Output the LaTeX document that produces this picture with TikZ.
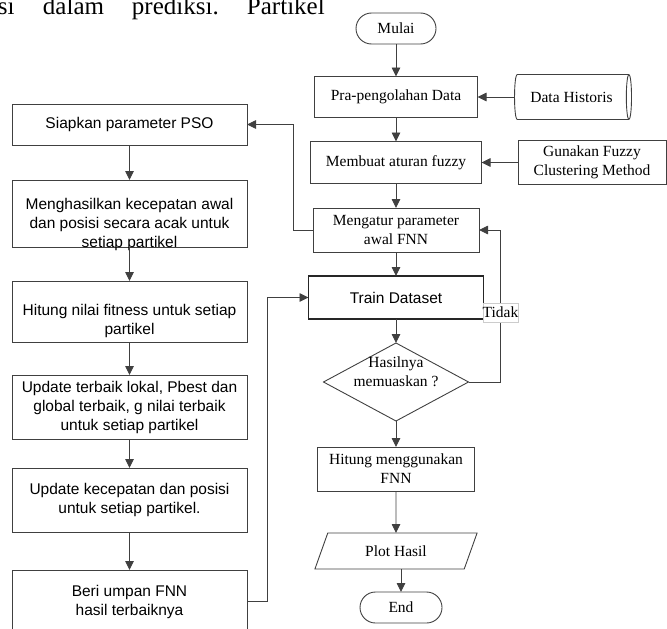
\documentclass[tikz,border=0pt]{standalone}
\usepackage{fontspec}
\setmainfont{Liberation Serif}
\setsansfont{Liberation Sans}
\usetikzlibrary{shapes.geometric,arrows.meta}
\begin{document}
\begin{tikzpicture}[x=1pt,y=-1pt,
  every node/.style={inner sep=0pt,outer sep=0pt,align=center},
  ln/.style={draw=black!75,line width=0.9pt},
  arr/.style={ln,-{Triangle[length=9pt,width=8.5pt]}},
  sbox/.style={ln,rectangle,minimum width=235pt,font=\sffamily\fontsize{15.5}{19}\selectfont},
  rbox/.style={ln,rectangle,font=\fontsize{15.5}{19}\selectfont},
  stxt/.style={font=\sffamily\fontsize{15.5}{19}\selectfont},
  rtxt/.style={font=\fontsize{15.5}{19}\selectfont},
  term/.style={ln,rectangle,rounded corners=15.5pt,font=\fontsize{15.5}{19}\selectfont}
]
\useasboundingbox (0,0) rectangle (667,629);
% top fragment of page text
\node[anchor=base west,font=\fontsize{25}{30}\selectfont] (toptext) at (-2,15)
  {\makebox[45pt][l]{si}\makebox[89pt][l]{dalam}\makebox[115pt][l]{prediksi.}Partikel};

% left column
\node[sbox,minimum height=41pt] (siap) at (129.5,124.5) {Siapkan parameter PSO};
\node[sbox,minimum height=67pt] (meng) at (129.5,213.5) {};
\node[stxt] (mengt) at (129.5,224.5) {Menghasilkan kecepatan awal\\dan posisi secara acak untuk\\setiap partikel};
\node[sbox,minimum height=61pt] (hfit) at (129.5,311.5) {};
\node[stxt] (hfitt) at (129.5,321) {Hitung nilai fitness untuk setiap\\partikel};
\node[sbox,minimum height=64pt] (upa) at (129.5,407) {Update terbaik lokal, Pbest dan\\global terbaik, g nilai terbaik\\untuk setiap partikel};
\node[sbox,minimum height=64pt] (upb) at (129.5,500) {Update kecepatan dan posisi\\untuk setiap partikel.};
\node[sbox,minimum height=63pt] (beri) at (129.5,601.5) {Beri umpan FNN\\hasil terbaiknya};

% right column
\node[term,minimum width=80pt,minimum height=31pt] (mulai) at (396,28.5) {Mulai};
\node[rbox,minimum width=163pt,minimum height=41pt] (pra) at (396,97) {Pra-pengolahan Data};
\node[ln,cylinder,shape aspect=0.5,minimum height=117pt,minimum width=45pt,rtxt] (hist) at (571.5,97) {Data Historis};
\node[rbox,minimum width=171pt,minimum height=42pt] (memb) at (396,162.5) {Membuat aturan fuzzy};
\node[rbox,minimum width=148pt,minimum height=44pt] (gun) at (592,162.5) {Gunakan Fuzzy\\Clustering Method};
\node[rbox,minimum width=166pt,minimum height=44pt] (atur) at (396,230) {Mengatur parameter\\awal FNN};
\node[rectangle,draw=black!85,line width=1.1pt,minimum width=175pt,minimum height=43pt,stxt] (train) at (396,297.5) {Train Dataset};
\node[ln,diamond,minimum width=145pt,minimum height=78pt] (dia) at (396,382) {};
\node[rtxt] (diat) at (396,372) {Hasilnya\\memuaskan ?};
\node[rbox,minimum width=157pt,minimum height=44pt] (hfnn) at (396,469) {Hitung menggunakan\\FNN};
\node[ln,trapezium,trapezium left angle=62,trapezium right angle=118,trapezium stretches=true,
      minimum width=163pt,minimum height=36pt,rtxt] (plot) at (396,551) {Plot Hasil};
\node[term,minimum width=82pt,minimum height=31pt] (end) at (401,607.5) {End};

% left column arrows
\draw[arr] (siap.south) -- (meng.north);
\draw[arr] (meng.south) -- (hfit.north);
\draw[arr] (hfit.south) -- (upa.north);
\draw[arr] (upa.south) -- (upb.north);
\draw[arr] (upb.south) -- (beri.north);

% right column arrows
\draw[arr] (mulai.south) -- (pra.north);
\draw[arr] (hist.west) -- (pra.east);
\draw[arr] (pra.south) -- (memb.north);
\draw[arr] (gun.west) -- (memb.east);
\draw[arr] (memb.south) -- (atur.north);
\draw[arr] (atur.south) -- (train.north);
\draw[arr] (train.south) -- (dia.north);
\draw[arr] (dia.south) -- (hfnn.north);
\draw[arr] (hfnn.south) -- (plot.north);
\draw[arr] (end.north |- plot.south) -- (end.north);

% cross connectors
\draw[arr] (atur.west) -- ++(-20,0) |- (siap.east);
\draw[arr] (beri.east) -- ++(20,0) |- (train.west);
\draw[arr] (dia.east) -- ++(32,0) |- (atur.east);
\node[draw=black!20,line width=0.4pt,fill=white,minimum width=35pt,minimum height=19pt,rtxt] (tidak) at (500.5,312.5) {Tidak};
\end{tikzpicture}
\end{document}
